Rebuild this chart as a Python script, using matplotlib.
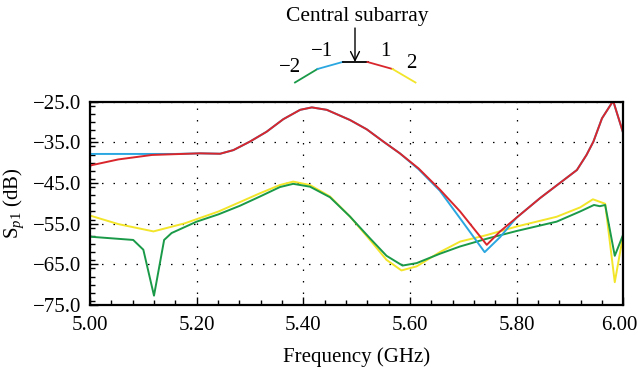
import numpy as np
import matplotlib
matplotlib.use('Agg')
from matplotlib import pyplot as plt
from matplotlib.ticker import MultipleLocator, FuncFormatter
from matplotlib.transforms import ScaledTranslation

plt.rcParams['font.family'] = 'Liberation Serif'
plt.rcParams['mathtext.fontset'] = 'custom'
plt.rcParams['mathtext.rm'] = 'Liberation Serif'
plt.rcParams['mathtext.it'] = 'Liberation Serif:italic'

# element -1 (blue)
f_blue = [5.000, 5.080, 5.134, 5.160, 5.206, 5.244, 5.269, 5.300, 5.331, 5.3625, 5.394,
          5.416, 5.444, 5.4875, 5.519, 5.550, 5.581, 5.616, 5.656, 5.694, 5.740, 5.769,
          5.790, 5.800, 5.844, 5.913, 5.931, 5.944, 5.960, 5.981, 6.000]
s_blue = [-37.85, -37.85, -37.85, -37.85, -37.7, -37.8, -36.9, -34.8, -32.4, -29.3, -27.0,
          -26.4, -27.0, -29.5, -31.8, -34.8, -37.7, -41.6, -46.9, -53.7, -62.0, -58.3,
          -55.0, -53.5, -48.7, -41.8, -38.1, -34.8, -29.1, -24.8, -32.8]

# element 1 (red)
f_red = [5.000, 5.053, 5.116, 5.160, 5.206, 5.244, 5.269, 5.300, 5.331, 5.3625, 5.394,
         5.416, 5.444, 5.4875, 5.519, 5.550, 5.581, 5.616, 5.656, 5.694, 5.744, 5.769,
         5.800, 5.844, 5.913, 5.931, 5.944, 5.960, 5.981, 6.000]
s_red = [-40.7, -39.2, -38.1, -37.9, -37.7, -37.8, -36.9, -34.8, -32.4, -29.3, -27.0,
         -26.4, -27.0, -29.5, -31.8, -34.8, -37.7, -41.4, -46.6, -52.0, -60.2, -56.9,
         -53.5, -48.7, -41.8, -38.1, -34.8, -29.1, -24.8, -32.8]

# element -2 (green)
f_green = [5.000, 5.081, 5.100, 5.120, 5.139, 5.153, 5.200, 5.241, 5.281, 5.319, 5.356,
           5.381, 5.4125, 5.450, 5.4875, 5.525, 5.556, 5.586, 5.6125, 5.656, 5.694, 5.744,
           5.800, 5.875, 5.919, 5.945, 5.956, 5.966, 5.984, 6.000]
s_green = [-58.2, -59.0, -61.4, -72.7, -59.0, -57.3, -54.5, -52.7, -50.6, -48.3, -46.0,
           -45.2, -45.9, -48.5, -53.25, -58.6, -62.9, -65.3, -64.7, -62.4, -60.6, -58.7,
           -56.8, -54.5, -52.0, -50.4, -50.7, -50.4, -62.9, -57.6]

# element 2 (yellow)
f_yellow = [5.000, 5.053, 5.119, 5.178, 5.241, 5.281, 5.319, 5.356, 5.381, 5.4125, 5.450,
            5.4875, 5.525, 5.556, 5.584, 5.6125, 5.656, 5.694, 5.744, 5.800, 5.875, 5.919,
            5.943, 5.966, 5.984, 6.000]
s_yellow = [-53.0, -55.1, -56.9, -54.9, -52.0, -49.7, -47.5, -45.5, -44.65, -45.5, -48.3,
            -53.25, -59.0, -63.9, -66.5, -65.5, -62.0, -59.4, -57.8, -55.7, -53.3, -51.0,
            -49.0, -50.1, -69.4, -57.6]

y_ticks = [-75, -65, -55, -45, -35, -25]
x_ticks = [5.0, 5.2, 5.4, 5.6, 5.8, 6.0]

c_red = '#d9262c'
c_blue = '#2aa7e0'
c_green = '#1a9a48'
c_yellow = '#f2e52a'

fig = plt.figure(figsize=(6.39, 3.70), dpi=100)
ax = fig.add_axes([90 / 639, 1 - 305 / 370, 533.3 / 639, 203.3 / 370])

ax.plot(f_yellow, s_yellow, color=c_yellow, lw=1.4)
ax.plot(f_green, s_green, color=c_green, lw=1.4)
ax.plot(f_blue, s_blue, color=c_blue, lw=1.4)
ax.plot(f_red, s_red, color=c_red, lw=1.4)

ax.set_xlim(5.0, 6.0)
ax.set_ylim(-75, -25)
ax.set_xticks(x_ticks)
ax.set_yticks(y_ticks)
ax.xaxis.set_minor_locator(MultipleLocator(0.04))
ax.yaxis.set_minor_locator(MultipleLocator(2))
ax.xaxis.set_major_formatter(FuncFormatter(lambda v, p: '%.2f' % v))
ax.yaxis.set_major_formatter(FuncFormatter(lambda v, p: ('%.1f' % v).replace('-', '\u2212')))
ax.tick_params(which='both', direction='in', top=False, right=False, labelsize=15, width=1.0)
ax.tick_params(which='major', length=6)
ax.tick_params(which='minor', length=3.5)
ax.tick_params(axis='y', pad=6)
ax.tick_params(axis='x', pad=8)
for sp in ax.spines.values():
    sp.set_linewidth(1.6)
ax.grid(True, which='major', color='black', linestyle=(0, (1.2, 8)), linewidth=0.9)

ax.set_xlabel('Frequency (GHz)', fontsize=15, labelpad=9)
ax.set_ylabel('S$_{p1}$ (dB)', fontsize=15, labelpad=5)

# keep the last x label inside the figure, as in the original
fig.canvas.draw()
last = ax.get_xticklabels()[-1]
last.set_transform(last.get_transform() + ScaledTranslation(-3 / 72, 0, fig.dpi_scale_trans))

# subarray sketch above the plot
lg = fig.add_axes([0, 0, 1, 1])
lg.set_xlim(0, 639)
lg.set_ylim(370, 0)
lg.axis('off')
lg.plot([295, 317.5], [82.5, 69], color=c_green, lw=1.3)
lg.plot([317.5, 342.5], [69, 62], color=c_blue, lw=1.3)
lg.plot([342.5, 367.5], [62, 62], color='black', lw=1.3)
lg.plot([367.5, 392.5], [62, 69], color=c_red, lw=1.3)
lg.plot([392.5, 415.5], [69, 82.5], color=c_yellow, lw=1.3)
lg.annotate('', xy=(355, 62), xytext=(355, 28),
            arrowprops=dict(arrowstyle='->', lw=1.0, color='black',
                            mutation_scale=16, shrinkA=0, shrinkB=0))
lg.text(357, 17, 'Central subarray', fontsize=15.5, ha='center', va='center')
lg.text(290, 67, '\u22122', fontsize=15, ha='center', va='center')
lg.text(322, 52, '\u22121', fontsize=15, ha='center', va='center')
lg.text(385, 52, '1', fontsize=15, ha='center', va='center')
lg.text(411, 64, '2', fontsize=15, ha='center', va='center')

fig.savefig('out.png', dpi=100)
